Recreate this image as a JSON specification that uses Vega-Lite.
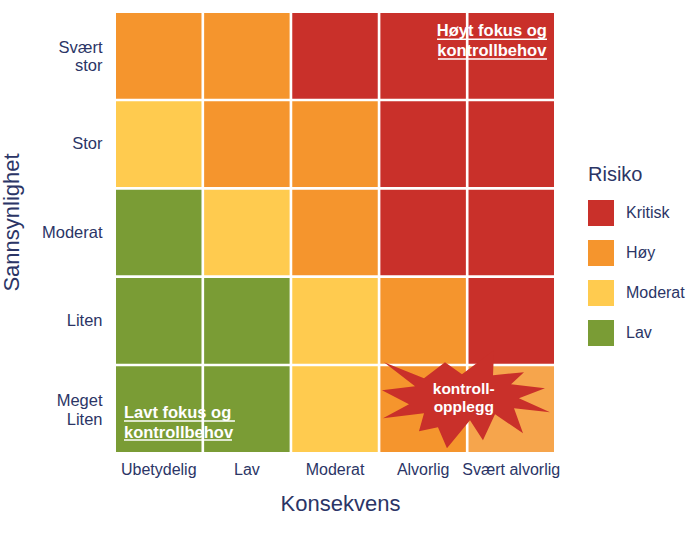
{"$schema":"https://vega.github.io/schema/vega-lite/v6.json","width":438,"height":439,"autosize":{"type":"none"},"padding":{"left":116,"top":13,"right":143,"bottom":85},"background":"white","config":{"font":"Liberation Sans","view":{"stroke":null}},"layer":[{"data":{"values":[{"k":"Ubetydelig","s":"Svært stor","r":"Høy"},{"k":"Lav","s":"Svært stor","r":"Høy"},{"k":"Moderat","s":"Svært stor","r":"Kritisk"},{"k":"Alvorlig","s":"Svært stor","r":"Kritisk"},{"k":"Svært alvorlig","s":"Svært stor","r":"Kritisk"},{"k":"Ubetydelig","s":"Stor","r":"Moderat"},{"k":"Lav","s":"Stor","r":"Høy"},{"k":"Moderat","s":"Stor","r":"Høy"},{"k":"Alvorlig","s":"Stor","r":"Kritisk"},{"k":"Svært alvorlig","s":"Stor","r":"Kritisk"},{"k":"Ubetydelig","s":"Moderat","r":"Lav"},{"k":"Lav","s":"Moderat","r":"Moderat"},{"k":"Moderat","s":"Moderat","r":"Høy"},{"k":"Alvorlig","s":"Moderat","r":"Kritisk"},{"k":"Svært alvorlig","s":"Moderat","r":"Kritisk"},{"k":"Ubetydelig","s":"Liten","r":"Lav"},{"k":"Lav","s":"Liten","r":"Lav"},{"k":"Moderat","s":"Liten","r":"Moderat"},{"k":"Alvorlig","s":"Liten","r":"Høy"},{"k":"Svært alvorlig","s":"Liten","r":"Kritisk"},{"k":"Ubetydelig","s":"Meget Liten","r":"Lav"},{"k":"Lav","s":"Meget Liten","r":"Lav"},{"k":"Moderat","s":"Meget Liten","r":"Moderat"},{"k":"Alvorlig","s":"Meget Liten","r":"Høy"},{"k":"Svært alvorlig","s":"Meget Liten","r":"Høy"}]},"mark":{"type":"rect"},"encoding":{"x":{"field":"k","type":"nominal","sort":["Ubetydelig","Lav","Moderat","Alvorlig","Svært alvorlig"],"scale":{"paddingInner":0.03,"paddingOuter":0},"axis":{"title":"Konsekvens","titleFontSize":22,"titleFontWeight":"normal","titleColor":"#2B3566","labelColor":"#2B3566","labelFontSize":16,"labelAngle":0,"ticks":false,"domain":false,"labelPadding":9,"titlePadding":16,"labelLimit":200,"titleX":224}},"y":{"field":"s","type":"nominal","sort":["Svært stor","Stor","Moderat","Liten","Meget Liten"],"scale":{"paddingInner":0.03,"paddingOuter":0},"axis":{"title":"Sannsynlighet","titleFontSize":22,"titleFontWeight":"normal","titleColor":"#2B3566","labelColor":"#2B3566","labelFontSize":16.5,"ticks":false,"domain":false,"labelPadding":14,"labelExpr":"split(datum.label,' ')","titlePadding":18,"titleY":209,"labelOffset":{"condition":{"test":"indexof(datum.value,' ')>=0","value":-8},"value":0}}},"color":{"field":"r","type":"nominal","scale":{"domain":["Kritisk","Høy","Moderat","Lav"],"range":["#C9302A","#F5952D","#FFCB4F","#7A9C35"]},"legend":{"title":"Risiko","orient":"none","legendX":472,"legendY":152,"titleFontSize":20,"titleFontWeight":"normal","titleColor":"#2B3566","labelColor":"#2B3566","labelFontSize":16,"symbolType":"square","symbolSize":676,"symbolStrokeWidth":0,"symbolOpacity":1,"labelOffset":12,"rowPadding":14,"titlePadding":15}},"opacity":{"condition":{"test":"datum.k=='Svært alvorlig' && datum.s=='Meget Liten'","value":0.85},"value":1}}},{"data":{"values":[{"x":4.0,"y":0.59}]},"mark":{"type":"point","filled":true,"opacity":1,"color":"#C9302A","size":32400,"shape":"M-.916,-.422L-.471,-.244L-.238,-.422L-.049,-.289L.307,-.556L.296,-.278L.64,-.311L.496,-.178L.873,-.133L.584,-.022L.929,.133L.529,.089L.629,.367L.318,.156L.184,.444L.04,.222L-.216,.533L-.316,.3L-.527,.344L-.471,.144L-.927,.2L-.638,.044L-.938,-.111L-.571,-.156Z"},"encoding":{"x":{"field":"x","type":"quantitative","scale":{"domain":[0,5]},"axis":null},"y":{"field":"y","type":"quantitative","scale":{"domain":[0,5]},"axis":null}}},{"data":{"values":[{"a":3.665,"b":4.92,"y":4.70},{"a":3.675,"b":4.92,"y":4.475},{"a":0.091,"b":1.358,"y":0.353},{"a":0.091,"b":1.324,"y":0.137}]},"mark":{"type":"rule","color":"#FFFFFF","strokeWidth":1.5},"encoding":{"x":{"field":"a","type":"quantitative","scale":{"domain":[0,5]},"axis":null},"x2":{"field":"b"},"y":{"field":"y","type":"quantitative","scale":{"domain":[0,5]},"axis":null}}},{"data":{"values":[{"t":"Høyt fokus og\nkontrollbehov","x":4.29,"y":4.79}]},"mark":{"type":"text","font":"Liberation Sans","fontWeight":"bold","fontSize":16.5,"color":"#FFFFFF","lineBreak":"\n","lineHeight":20,"align":"center","baseline":"middle"},"encoding":{"x":{"field":"x","type":"quantitative","scale":{"domain":[0,5]},"axis":null},"y":{"field":"y","type":"quantitative","scale":{"domain":[0,5]},"axis":null},"text":{"field":"t"}}},{"data":{"values":[{"t":"kontroll-\nopplegg","x":3.97,"y":0.72}]},"mark":{"type":"text","font":"Liberation Sans","fontWeight":"bold","fontSize":15.5,"color":"#FFFFFF","lineBreak":"\n","lineHeight":18,"align":"center","baseline":"middle"},"encoding":{"x":{"field":"x","type":"quantitative","scale":{"domain":[0,5]},"axis":null},"y":{"field":"y","type":"quantitative","scale":{"domain":[0,5]},"axis":null},"text":{"field":"t"}}},{"data":{"values":[{"t":"Lavt fokus og\nkontrollbehov","x":0.091,"y":0.44}]},"mark":{"type":"text","font":"Liberation Sans","fontWeight":"bold","fontSize":16.5,"color":"#FFFFFF","lineBreak":"\n","lineHeight":20,"align":"left","baseline":"middle"},"encoding":{"x":{"field":"x","type":"quantitative","scale":{"domain":[0,5]},"axis":null},"y":{"field":"y","type":"quantitative","scale":{"domain":[0,5]},"axis":null},"text":{"field":"t"}}}],"resolve":{"scale":{"x":"independent","y":"independent"}}}
